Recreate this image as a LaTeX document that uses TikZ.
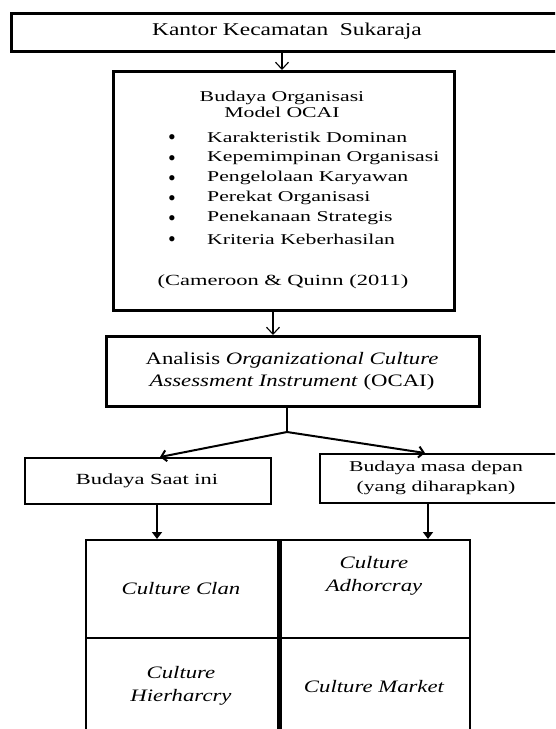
\documentclass[tikz,border=0pt]{standalone}
\usepackage{fontspec}
\setmainfont{Liberation Serif}
\newfontfamily\fN{Liberation Serif}[FakeStretch=1.3]
\newfontfamily\fW{Liberation Serif}[FakeStretch=1.45]
\usetikzlibrary{arrows.meta}
\begin{document}
\begin{tikzpicture}[x=1pt,y=-1pt,
  box/.style={draw, inner sep=0pt, anchor=north west},
  txt/.style={inner sep=0pt, align=center},
  thinarrow/.style={line width=1.1pt, -{Straight Barb[length=7pt,width=13pt,line width=1.1pt]}},
  brancharrow/.style={line width=2pt, -{Straight Barb[length=5pt,width=11pt,line width=2pt]}},
  downarrow/.style={line width=2.6pt, -{Triangle[length=7pt,width=10pt]}},
  itemtxt/.style={anchor=west, inner sep=0pt, font=\fW\fontsize{15}{18}\selectfont},
  bullettxt/.style={inner sep=0pt, text height=15pt, text depth=0pt, font=\fontsize{22}{22}\selectfont},
  celltxt/.style={txt, font=\fN\itshape\fontsize{17.5}{23}\selectfont}
]
\useasboundingbox (0,0) rectangle (555,729);
\clip (0,0) rectangle (555,729);

% top box
\node[box, line width=2.6pt, minimum width=560pt, minimum height=38pt] (top) at (10,12) {};
\node[txt, font=\fN\fontsize{18}{22}\selectfont] (toptxt) at (287,31) {Kantor Kecamatan\ \ Sukaraja};

% box 2
\node[box, line width=3pt, minimum width=341pt, minimum height=239pt] (b2) at (112,70) {};
\node[txt, font=\fW\fontsize{15}{15.5}\selectfont] (b2title) at (282,104.5) {Budaya Organisasi\\Model OCAI};
\foreach \i/\y/\t in {1/137/Karakteristik Dominan,2/158/Kepemimpinan Organisasi,3/178/Pengelolaan Karyawan,4/198/Perekat Organisasi,5/218/Penekanaan Strategis,6/239/Kriteria Keberhasilan}{
  \node[itemtxt] (item\i) at (207,\y) {\t};
  \node[bullettxt] (bul\i) at (172,\y) {•};
}
\node[txt, font=\fW\fontsize{15.5}{18}\selectfont] (cite) at (283,282) {(Cameroon \& Quinn (2011)};

% analisis box
\node[box, line width=2.8pt, minimum width=373pt, minimum height=70pt] (ana) at (105,335) {};
\node[txt, font=\fN\fontsize{17.5}{22}\selectfont] (anatxt) at (292,371) {Analisis \textit{Organizational Culture}\\\textit{Assessment Instrument} (OCAI)};

% branch boxes
\node[box, line width=2.2pt, minimum width=246pt, minimum height=46pt] (saat) at (24,457) {};
\node[txt, font=\fW\fontsize{15.5}{18}\selectfont] (saattxt) at (147,481) {Budaya Saat ini};
\node[box, line width=2.4pt, minimum width=260pt, minimum height=49pt] (depan) at (319,453) {};
\node[txt, font=\fW\fontsize{15}{20}\selectfont] (depantxt) at (436,478) {Budaya masa depan\\(yang diharapkan)};

% grid
\node[box, line width=2.4pt, minimum width=192pt, minimum height=98pt] (clan) at (85,539) {};
\node[box, line width=2.4pt, minimum width=192pt, minimum height=98pt] (adh) at (277,539) {};
\node[box, line width=2.4pt, minimum width=192pt, minimum height=110pt] (hier) at (85,637) {};
\node[box, line width=2.4pt, minimum width=192pt, minimum height=110pt] (market) at (277,637) {};
\draw[line width=5pt] (clan.north east) -- (hier.south east);
\node[celltxt] (clantxt) at (181,589) {Culture Clan};
\node[celltxt] (adhtxt) at (374,575.5) {Culture\\Adhorcray};
\node[celltxt] (hiertxt) at (181,686) {Culture\\Hierharcry};
\node[celltxt] (markettxt) at (374,687) {Culture Market};

% connectors
\coordinate (x1) at (282,0);
\coordinate (x2) at (273,0);
\coordinate (j) at (287,432);
\coordinate (jl) at (160,457);
\coordinate (jr) at (425,453);
\coordinate (xl) at (157,0);
\coordinate (xr) at (428,0);
\draw[thinarrow] (top.south -| x1) -- (b2.north -| x1);
\draw[thinarrow] (b2.south -| x2) -- (ana.north -| x2);
\draw[line width=2.2pt] (ana.south -| j) -- (j);
\draw[brancharrow] (j) -- (jl);
\draw[brancharrow] (j) -- (jr);
\draw[downarrow] (saat.south -| xl) -- (clan.north -| xl);
\draw[downarrow] (depan.south -| xr) -- (adh.north -| xr);
\end{tikzpicture}
\end{document}
